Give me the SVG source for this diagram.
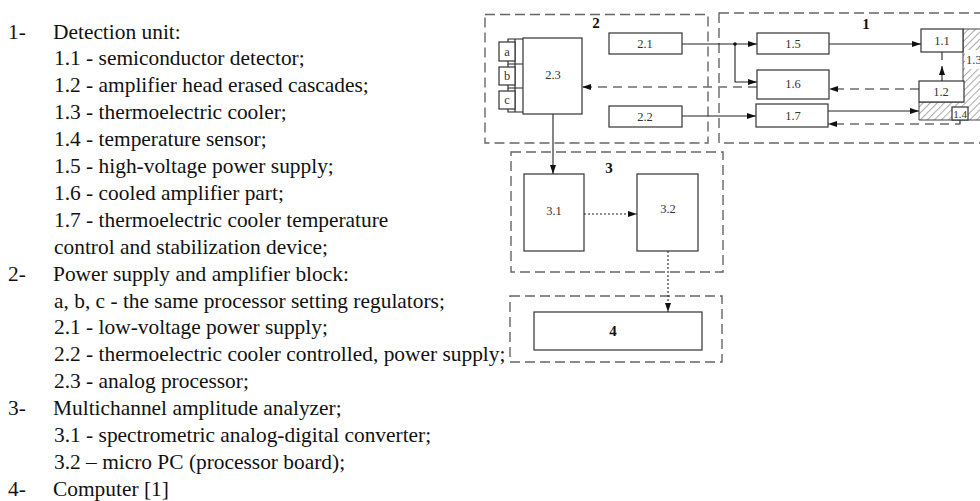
<svg xmlns="http://www.w3.org/2000/svg" width="980" height="501" viewBox="0 0 980 501">
<defs>
<style>
.box{fill:#fff;stroke:#333;stroke-width:1.2}
.grp{fill:none;stroke:#666;stroke-width:1.4;stroke-dasharray:10 5}
.ln{fill:none;stroke:#222;stroke-width:1.1}
.dsh{stroke-dasharray:9 6}
.dot{stroke-dasharray:2 2}
.lbl{font-family:"Liberation Serif",serif;font-size:12.5px;text-anchor:middle;fill:#333}
.num{font-family:"Liberation Serif",serif;font-size:15px;font-weight:bold;text-anchor:middle;fill:#111}
.txt{font-family:"Liberation Serif",serif;font-size:21.4px;fill:#111}
</style>
<marker id="ar" markerUnits="userSpaceOnUse" markerWidth="9" markerHeight="6" refX="9" refY="3" orient="auto">
<path d="M0,0 L9,3 L0,6 z" fill="#111"/>
</marker>
<pattern id="hatch" patternUnits="userSpaceOnUse" width="5" height="5" patternTransform="rotate(45)">
<rect width="5" height="5" fill="#fff"/>
<line x1="0" y1="0" x2="0" y2="5" stroke="#555" stroke-width="1"/>
</pattern>
</defs>
<rect width="980" height="501" fill="#fff"/>

<g id="legend" class="txt">
<text x="8" y="38.5">1-</text><text x="53" y="38.5">Detection unit:</text>
<text x="54" y="65.4">1.1 - semiconductor detector;</text>
<text x="54" y="92.3">1.2 - amplifier head erased cascades;</text>
<text x="54" y="119.2">1.3 - thermoelectric cooler;</text>
<text x="54" y="146.1">1.4 - temperature sensor;</text>
<text x="54" y="173">1.5 - high-voltage power supply;</text>
<text x="54" y="199.9">1.6 - cooled amplifier part;</text>
<text x="54" y="226.8">1.7 - thermoelectric cooler temperature</text>
<text x="54" y="253.7">control and stabilization device;</text>
<text x="8" y="280.6">2-</text><text x="53" y="280.6">Power supply and amplifier block:</text>
<text x="54" y="307.5">a, b, c - the same processor setting regulators;</text>
<text x="54" y="334.4">2.1 - low-voltage power supply;</text>
<text x="54" y="361.3">2.2 - thermoelectric cooler controlled, power supply;</text>
<text x="54" y="388.2">2.3 - analog processor;</text>
<text x="8" y="415.1">3-</text><text x="53" y="415.1">Multichannel amplitude analyzer;</text>
<text x="54" y="442">3.1 - spectrometric analog-digital converter;</text>
<text x="54" y="468.9">3.2 – micro PC (processor board);</text>
<text x="8" y="495.8">4-</text><text x="53" y="495.8">Computer [1]</text>
</g>

<g id="group2">
<rect class="grp" x="485" y="14.5" width="223" height="128.5"/>
<text class="num" x="596" y="28">2</text>
</g>
<g id="group1">
<rect class="grp" x="719" y="13" width="280" height="130"/>
<text class="num" x="866" y="29">1</text>
</g>
<g id="group3">
<rect class="grp" x="511" y="152" width="212" height="120"/>
<text class="num" x="609" y="173">3</text>
</g>
<g id="group4">
<rect class="grp" x="510" y="296" width="212" height="66"/>
</g>

<g id="connectors">
<path class="ln" d="M682,44 H757" marker-end="url(#ar)"/>
<path class="ln" d="M735,44 V82 H757" marker-end="url(#ar)"/>
<circle cx="735" cy="44" r="1.8" fill="#111"/>
<path class="ln" d="M829,44 H921" marker-end="url(#ar)"/>
<path class="ln dsh" d="M919,89 H829" marker-end="url(#ar)"/>
<path class="ln dsh" d="M757,87 H582" marker-end="url(#ar)"/>
<path class="ln" d="M682,116 H756" marker-end="url(#ar)"/>
<path class="ln" d="M828,111 H919" marker-end="url(#ar)"/>
<path class="ln dsh" d="M960,120 V124 H828" marker-end="url(#ar)"/>
<path class="ln" d="M942,52 V60"/>
<path class="ln" d="M942,81 V66" marker-end="url(#ar)"/>
<path class="ln" d="M553,114 V174" marker-end="url(#ar)"/>
<path class="ln dot" d="M584,214 H637" marker-end="url(#ar)"/>
<path class="ln dot" d="M668,251 V312" marker-end="url(#ar)"/>
<path class="ln" d="M508,42 V39 H528 M515,39 V64 M508,61 V64 H528"/>
<path class="ln" d="M508,67 V64 M508,85 V88 H528 M515,88 V64"/>
<path class="ln" d="M508,91 V88 M515,88 V112 M508,109 V112 H528"/>
</g>

<g id="n2-3"><rect class="box" x="523" y="38" width="59" height="76"/><text class="lbl" x="553" y="79">2.3</text></g>
<g id="na"><rect class="box" x="499" y="42" width="16" height="19"/><text class="lbl" x="507" y="55.5">a</text></g>
<g id="nb"><rect class="box" x="499" y="67" width="16" height="18"/><text class="lbl" x="507" y="80">b</text></g>
<g id="nc"><rect class="box" x="499" y="91" width="16" height="18"/><text class="lbl" x="507" y="104">c</text></g>
<g id="n2-1"><rect class="box" x="609" y="33" width="73" height="21"/><text class="lbl" x="645" y="48">2.1</text></g>
<g id="n2-2"><rect class="box" x="609" y="106" width="73" height="21"/><text class="lbl" x="645" y="120.5">2.2</text></g>
<g id="n1-5"><rect class="box" x="757" y="33" width="72" height="21"/><text class="lbl" x="793" y="48">1.5</text></g>
<g id="n1-6"><rect class="box" x="757" y="70" width="72" height="29"/><text class="lbl" x="793" y="88">1.6</text></g>
<g id="n1-7"><rect class="box" x="756" y="104" width="72" height="23"/><text class="lbl" x="793" y="120">1.7</text></g>
<g id="n1-3">
<path d="M963,29 H990 V120 H919 V102 H963 Z" fill="url(#hatch)" stroke="#444" stroke-width="1"/>
<rect x="965" y="50" width="25" height="19" fill="#fff"/>
<text class="lbl" x="966" y="64" style="text-anchor:start">1.3</text>
</g>
<g id="n1-1"><rect class="box" x="921" y="29" width="42" height="23"/><text class="lbl" x="942" y="45">1.1</text></g>
<g id="n1-2"><rect class="box" x="919" y="81" width="45" height="21"/><text class="lbl" x="941" y="96">1.2</text></g>
<g id="n1-4"><rect class="box" x="952" y="107" width="16" height="13"/><text class="lbl" x="960" y="117.5" style="font-size:11px">1.4</text></g>
<g id="n3-1"><rect class="box" x="524" y="174" width="60" height="77"/><text class="lbl" x="554" y="215">3.1</text></g>
<g id="n3-2"><rect class="box" x="637" y="174" width="61" height="77"/><text class="lbl" x="668" y="213">3.2</text></g>
<g id="n4"><rect class="box" x="534" y="312" width="168" height="38"/><text class="num" x="613" y="336">4</text></g>
</svg>
